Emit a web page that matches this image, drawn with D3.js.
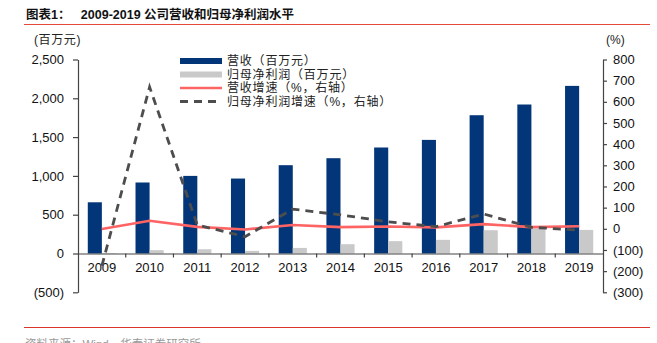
<!DOCTYPE html>
<html><head><meta charset="utf-8">
<script src="https://cdn.jsdelivr.net/npm/d3@7"></script>
<style>
html,body{margin:0;padding:0;background:#fff;}
svg{display:block;}
</style></head>
<body>
<svg id="c" width="657" height="343"></svg>
<script>
const categories = ["2009","2010","2011","2012","2013","2014","2015","2016","2017","2018","2019"];
const revenue = [660, 915, 1000, 966, 1138, 1228, 1366, 1464, 1782, 1920, 2160];
const netProfit = [6, 43, 55, 34, 72, 120, 159, 176, 300, 322, 304];
const revenueGrowth = [-1, 38, 9, -3, 18, 8, 11, 7, 22, 8, 12];
const profitGrowth = [-175, 670, 18, -37, 93, 66, 33, 10, 70, 7, -6];
const leftTicks = [-500, 0, 500, 1000, 1500, 2000, 2500];
const rightTicks = [-300, -200, -100, 0, 100, 200, 300, 400, 500, 600, 700, 800];
const legendLabels = ["营收（百万元）", "归母净利润（百万元）", "营收增速（%，右轴）", "归母净利润增速（%，右轴）"];

const svg = d3.select("#c");
const L = 78, R = 603, T = 59.5, B = 292.3;
const navy = "#023679", gray = "#C9C9C9", red = "#FF6464", dark = "#4D4D4D", axisCol = "#444";
const latin = "'Liberation Sans', Arial, sans-serif";
const cjk = "'Liberation Sans', 'Noto Sans CJK SC', sans-serif";

const x = d3.scaleBand().domain(categories).range([L, R]).paddingInner(0.41).paddingOuter(0.205);
const xs = d3.scaleBand().domain(["rev","np"]).range([0, x.bandwidth()]);
const yL = d3.scaleLinear().domain([-500, 2500]).range([B, T]);
const yR = d3.scaleLinear().domain([-300, 800]).range([B, T]);
const fmt = v => v < 0 ? "(" + d3.format(",")(-v) + ")" : d3.format(",")(v);

// header
svg.append("text").attr("x", 26).attr("y", 19).attr("font-family", cjk).attr("font-size", 12.5)
  .attr("font-weight", "bold").attr("fill", "#111")
  .text("图表1：   2009-2019 公司营收和归母净利润水平").attr("xml:space","preserve").style("white-space","pre");
svg.append("line").attr("x1", 24).attr("x2", 650).attr("y1", 24.5).attr("y2", 24.5)
  .attr("stroke", "#E5493A").attr("stroke-width", 1.2);
svg.append("line").attr("x1", 24).attr("x2", 650).attr("y1", 327.5).attr("y2", 327.5)
  .attr("stroke", "#D9352A").attr("stroke-width", 1.2);
svg.append("text").attr("x", 25).attr("y", 348).attr("font-family", cjk).attr("font-size", 11.5)
  .attr("fill", "#9a9a9a").text("资料来源：Wind，华泰证券研究所");

// unit labels
svg.append("text").attr("x", 34).attr("y", 44).attr("font-family", cjk).attr("font-size", 12)
  .attr("letter-spacing", 0.6).attr("fill", "#222").text("(百万元)");
svg.append("text").attr("x", 606).attr("y", 44).attr("font-family", latin).attr("font-size", 12)
  .attr("fill", "#222").text("(%)");

// bars
const g = svg.append("g");
g.selectAll("rect.rev").data(categories).join("rect").attr("class","rev")
  .attr("x", (d) => x(d) + xs("rev")).attr("width", xs.bandwidth())
  .attr("y", (d,i) => yL(revenue[i])).attr("height", (d,i) => yL(0) - yL(revenue[i]))
  .attr("fill", navy);
g.selectAll("rect.np").data(categories).join("rect").attr("class","np")
  .attr("x", (d) => x(d) + xs("np")).attr("width", xs.bandwidth())
  .attr("y", (d,i) => yL(Math.max(0, netProfit[i]))).attr("height", (d,i) => Math.abs(yL(0) - yL(netProfit[i])))
  .attr("fill", gray);

// left axis
const la = svg.append("g").attr("transform", `translate(${L},0)`)
  .call(d3.axisLeft(yL).tickValues(leftTicks).tickFormat(fmt).tickSize(5).tickSizeOuter(0));
// right axis
const ra = svg.append("g").attr("transform", `translate(${R},0)`)
  .call(d3.axisRight(yR).tickValues(rightTicks).tickFormat(fmt).tickSize(4).tickSizeOuter(0));
[la, ra].forEach(a => {
  a.select(".domain").attr("stroke", axisCol).attr("stroke-width", 1.2);
  a.selectAll(".tick line").attr("stroke", axisCol).attr("stroke-width", 1.2);
  a.selectAll(".tick text").attr("font-family", latin).attr("font-size", 13).attr("fill", "#111");
});
la.selectAll(".tick text").attr("x", -14);
ra.selectAll(".tick text").attr("x", 10);

// x axis at zero
const xa = svg.append("g").attr("transform", `translate(0,${yL(0)})`)
  .call(d3.axisBottom(x).tickSize(0).tickSizeOuter(0));
xa.select(".domain").attr("stroke", axisCol).attr("stroke-width", 1.2);
xa.selectAll(".tick text").attr("font-family", latin).attr("font-size", 13).attr("fill", "#111").attr("dy", "0.95em").attr("y", 6);
// category separator ticks
const step = x.step();
xa.selectAll("line.sep").data(categories.slice(1)).join("line").attr("class","sep")
  .attr("x1", d => x(d) - x.paddingInner()*step/2).attr("x2", d => x(d) - x.paddingInner()*step/2)
  .attr("y1", 0).attr("y2", 4).attr("stroke", axisCol).attr("stroke-width", 1.2);

// lines
const cx = d => x(d) + x.bandwidth()/2;
const lineR = d3.line().x((d,i) => cx(categories[i])).y(d => yR(d));
svg.append("path").datum(revenueGrowth).attr("d", lineR).attr("fill","none")
  .attr("stroke", red).attr("stroke-width", 2.6);
svg.append("path").datum(profitGrowth).attr("d", lineR).attr("fill","none")
  .attr("stroke", dark).attr("stroke-width", 2.8).attr("stroke-dasharray", "8,6");

// legend
const lg = svg.append("g").attr("transform", "translate(180,61)");
const rowH = 13.5;
legendLabels.forEach((lab, i) => {
  const yy = i * rowH;
  if (i === 0 || i === 1) {
    lg.append("rect").attr("x", 0).attr("y", yy - 3).attr("width", 42).attr("height", 6)
      .attr("fill", i === 0 ? navy : gray);
  } else if (i === 2) {
    lg.append("line").attr("x1", 0).attr("x2", 42).attr("y1", yy).attr("y2", yy)
      .attr("stroke", red).attr("stroke-width", 2.6);
  } else {
    lg.append("line").attr("x1", 0).attr("x2", 42).attr("y1", yy).attr("y2", yy)
      .attr("stroke", dark).attr("stroke-width", 2.8).attr("stroke-dasharray", "8,6");
  }
  lg.append("text").attr("x", 47).attr("y", yy).attr("dy", "0.36em")
    .attr("font-family", cjk).attr("font-size", 12).attr("letter-spacing", 0.8)
    .attr("fill", "#222").text(lab);
});
</script>
</body></html>
